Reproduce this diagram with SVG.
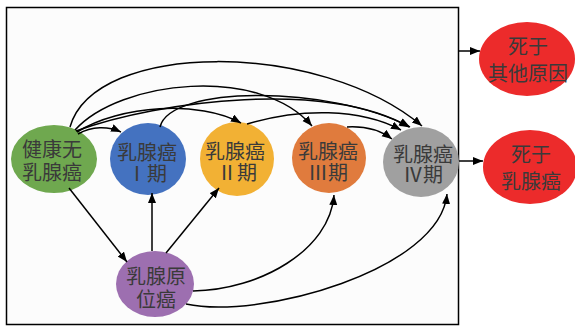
<svg xmlns="http://www.w3.org/2000/svg" width="575" height="328" viewBox="0 0 575 328">
<defs>
<marker id="ah" markerUnits="userSpaceOnUse" markerWidth="11" markerHeight="9" refX="10" refY="4" orient="auto">
<path d="M0,0 L10,4 L0,8 z" fill="#000"/>
</marker>
<style>
.c{fill:none;stroke:#000;stroke-width:1.5;marker-end:url(#ah)}
.t{font-family:"Noto Sans CJK SC","Noto Sans CJK JP",sans-serif;font-size:20px;fill:#3a3a3a;text-anchor:middle;dominant-baseline:central}
</style>
</defs>
<rect width="575" height="328" fill="#fff"/>
<rect x="6.5" y="7.5" width="452" height="317" fill="#fcfcfc" stroke="#000" stroke-width="1.5"/>
<g id="healthy"><ellipse cx="54" cy="159" rx="43" ry="34" fill="#6fa84f"/><text class="t" x="52" y="148">健康无<tspan x="52" dy="23">乳腺癌</tspan></text></g>
<g id="stage1"><ellipse cx="148" cy="159" rx="38" ry="36" fill="#4472c0"/><text class="t" x="147" y="151">乳腺癌<tspan x="147" dy="21">Ⅰ期</tspan></text></g>
<g id="stage2"><ellipse cx="237" cy="159" rx="37" ry="37" fill="#f2b134"/><text class="t" x="235" y="150">乳腺癌<tspan x="237" dy="21">Ⅱ期</tspan></text></g>
<g id="stage3"><ellipse cx="329" cy="158" rx="37" ry="35" fill="#e07b3d"/><text class="t" x="328" y="150">乳腺癌<tspan x="328" dy="21">Ⅲ期</tspan></text></g>
<g id="stage4"><ellipse cx="421" cy="162" rx="38" ry="35" fill="#a0a0a0"/><text class="t" x="423" y="153">乳腺癌<tspan x="423" dy="20">Ⅳ期</tspan></text></g>
<g id="dcis"><ellipse cx="155" cy="284" rx="39" ry="33" fill="#9d6fb0"/><text class="t" x="156" y="275">乳腺原<tspan x="156" dy="23">位癌</tspan></text></g>
<g id="death-other"><ellipse cx="527" cy="59" rx="48" ry="37" fill="#ec2b2b"/><text class="t" x="528" y="45">死于<tspan x="528" dy="27">其他原因</tspan></text></g>
<g id="death-bc"><ellipse cx="530" cy="167" rx="47" ry="37" fill="#ec2b2b"/><text class="t" x="531" y="153">死于<tspan x="531" dy="27">乳腺癌</tspan></text></g>
<g id="connectors">
<path class="c" d="M70,127 C95,40 320,40 422,126"/>
<path class="c" d="M75,130 C120,80 260,65 312,126"/>
<path class="c" d="M76,131 C160,100 330,80 409,127"/>
<path class="c" d="M160,127 C170,85 330,85 410,127"/>
<path class="c" d="M77,132 C120,105 200,100 241,123"/>
<path class="c" d="M78,134 C92,126 108,126 121,132"/>
<path class="c" d="M247,124 C300,108 360,108 401,130"/>
<path class="c" d="M347,127 C365,126 380,130 392,139"/>
<path class="c" d="M69,188 L127,262"/>
<path class="c" d="M152,251 L152,193"/>
<path class="c" d="M166,253 L219,188"/>
<path class="c" d="M193,291 C260,290 330,250 334,195"/>
<path class="c" d="M186,304 C260,320 440,270 447,194"/>
<path class="c" d="M459,161 L483,161"/>
<path class="c" d="M458,51 L480,51"/>
</g>
</svg>
